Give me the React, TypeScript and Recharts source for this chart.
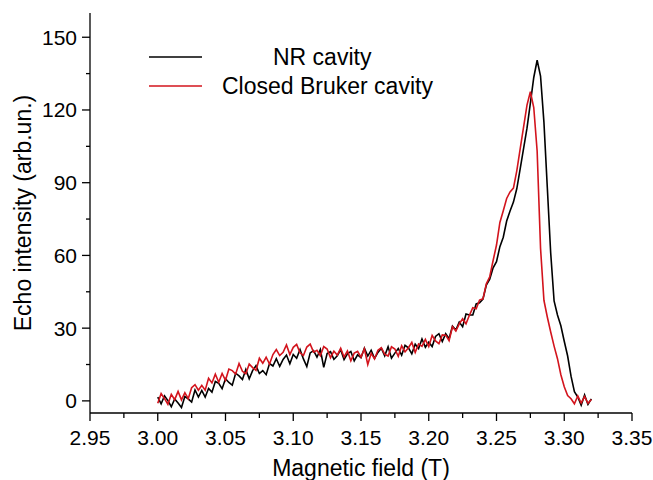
import React from 'react';
import { LineChart, Line, XAxis, YAxis, Legend } from 'recharts';

// magnetic field (T), one reading every 2.5 mT
const fields = [
  3.0, 3.0025, 3.005, 3.0075, 3.01, 3.0125, 3.015, 3.0175,
  3.02, 3.0225, 3.025, 3.0275, 3.03, 3.0325, 3.035, 3.0375,
  3.04, 3.0425, 3.045, 3.0475, 3.05, 3.0525, 3.055, 3.0575,
  3.06, 3.0625, 3.065, 3.0675, 3.07, 3.0725, 3.075, 3.0775,
  3.08, 3.0825, 3.085, 3.0875, 3.09, 3.0925, 3.095, 3.0975,
  3.1, 3.1025, 3.105, 3.1075, 3.11, 3.1125, 3.115, 3.1175,
  3.12, 3.1225, 3.125, 3.1275, 3.13, 3.1325, 3.135, 3.1375,
  3.14, 3.1425, 3.145, 3.1475, 3.15, 3.1525, 3.155, 3.1575,
  3.16, 3.1625, 3.165, 3.1675, 3.17, 3.1725, 3.175, 3.1775,
  3.18, 3.1825, 3.185, 3.1875, 3.19, 3.1925, 3.195, 3.1975,
  3.2, 3.2025, 3.205, 3.2075, 3.21, 3.2125, 3.215, 3.2175,
  3.22, 3.2225, 3.225, 3.2275, 3.23, 3.2325, 3.235, 3.2375,
  3.24, 3.2425, 3.245, 3.2475, 3.25, 3.2525, 3.255, 3.2575,
  3.26, 3.2625, 3.265, 3.2675, 3.27, 3.2725, 3.275, 3.2775,
  3.28, 3.2825, 3.285, 3.2875, 3.29, 3.2925, 3.295, 3.2975,
  3.3, 3.3025, 3.305, 3.3075, 3.31, 3.3125, 3.315, 3.3175,
  3.32,
];

const nrCavity = [
  1.5, -1.2, 2.1, 0.1, -2.4, 0.8, -0.9, -2.7,
  1.8, 0.8, -0.5, 4.5, 1.6, 4.3, 1.6, 5.1,
  3.6, 8.0, 7.2, 5.0, 9.1, 7.6, 6.5, 11.4,
  10.3, 8.8, 13.0, 9.1, 12.5, 14.5, 11.3, 12.5,
  10.8, 15.4, 14.4, 17.4, 14.2, 17.1, 18.9, 15.3,
  19.1, 17.6, 21.2, 17.3, 14.2, 19.8, 20.7, 18.0,
  21.2, 13.8, 19.5, 20.3, 17.1, 18.6, 21.1, 17.0,
  19.4, 20.4, 16.5, 19.0, 17.8, 21.7, 18.5, 20.9,
  17.5, 20.0, 21.7, 18.6, 22.3, 17.6, 19.7, 21.6,
  18.8, 22.9, 21.9, 19.4, 23.4, 21.6, 25.5, 22.1,
  24.2, 22.4, 26.6, 27.7, 24.5, 27.7, 25.6, 30.8,
  29.2, 32.5, 30.6, 35.8, 35.4, 35.4, 40.0, 40.5,
  42.0, 47.8, 50.2, 54.9, 57.4, 63.6, 67.5, 74.2,
  78.3, 82.0, 87.6, 95.8, 104.2, 112.5, 122.8, 133.4,
  140.5, 134.0, 115.0, 88.0, 61.0, 41.2, 35.4, 31.0,
  24.6, 18.5, 10.2, 3.8, 1.6, -1.8, 2.4, -1.5,
  0.8,
];

const brukerCavity = [
  -1.0, 3.0, 0.9, -1.4, 2.7, 0.5, 3.9, 0.4,
  3.4, 0.9, 5.4, 6.7, 4.4, 6.4, 4.4, 9.3,
  7.4, 11.0, 7.7, 11.3, 8.5, 13.1, 12.5, 11.1,
  15.4, 12.2, 11.2, 15.2, 13.7, 12.6, 17.6, 15.5,
  18.0, 15.2, 19.1, 21.2, 18.7, 20.0, 23.1, 19.1,
  22.1, 23.3, 19.8, 18.7, 22.2, 23.4, 20.1, 20.9,
  18.6, 22.4, 21.4, 17.8, 20.5, 18.9, 21.7, 18.1,
  20.6, 16.5, 19.7, 20.4, 18.0, 21.5, 15.0, 19.6,
  17.3, 20.9, 21.9, 19.3, 18.5, 22.3, 21.4, 18.4,
  22.7, 20.2, 21.9, 24.1, 20.0, 23.5, 22.5, 25.4,
  22.4, 27.0, 24.7, 23.6, 27.2, 27.1, 24.8, 30.6,
  28.8, 31.8, 33.9, 31.8, 35.3, 38.4, 38.0, 41.6,
  42.1, 48.3, 51.2, 57.9, 64.3, 73.6, 78.4, 83.5,
  86.2, 87.8, 95.0, 104.1, 113.0, 122.0, 127.5, 121.0,
  103.0, 63.0, 41.5, 34.6, 28.4, 22.6, 17.4, 10.8,
  5.8, 2.2, 0.9, -1.2, 2.0, -0.9, 1.8, -1.0,
  0.6,
];

const xTicks = [
  2.95, 2.975, 3.0, 3.025, 3.05, 3.075, 3.1, 3.125, 3.15,
  3.175, 3.2, 3.225, 3.25, 3.275, 3.3, 3.325, 3.35,
];
const yTicks = [0, 15, 30, 45, 60, 75, 90, 105, 120, 135, 150];

const data = fields.map((field, i) => ({
  field,
  nr: nrCavity[i],
  bruker: brukerCavity[i],
}));

const FONT = '"Liberation Sans", Arial, sans-serif';
const RED = '#d3141d';

const isMajorX = (v: number) => Math.abs(v * 20 - Math.round(v * 20)) < 1e-6;

const XTick = (props: any) => {
  const { x, y, payload } = props;
  const major = isMajorX(payload.value);
  return (
    <g>
      <line x1={x} x2={x} y1={y} y2={y + (major ? 8 : 5)} stroke="#000" strokeWidth={1.3} />
      {major && (
        <text x={x} y={y + 32} textAnchor="middle" fontSize={21} fill="#000">
          {payload.value.toFixed(2)}
        </text>
      )}
    </g>
  );
};

const YTick = (props: any) => {
  const { x, y, payload } = props;
  const major = payload.value % 30 === 0;
  return (
    <g>
      <line x1={x} x2={x - (major ? 8 : 4)} y1={y} y2={y} stroke="#000" strokeWidth={1.3} />
      {major && (
        <text x={x - 13} y={y + 7.5} textAnchor="end" fontSize={21} fill="#000">
          {payload.value}
        </text>
      )}
    </g>
  );
};

const LegendBox = () => (
  <svg width={653} height={110} style={{ display: 'block', fontFamily: FONT }}>
    <line x1={149} x2={202} y1={57} y2={57} stroke="#000" strokeWidth={1.3} />
    <text x={273} y={65} fontSize={23} fill="#000">NR cavity</text>
    <line x1={149} x2={202} y1={86} y2={86} stroke={RED} strokeWidth={1.3} />
    <text x={222} y={94} fontSize={23} fill="#000">Closed Bruker cavity</text>
  </svg>
);

export default function App() {
  return (
    <div style={{ position: 'absolute', left: 0, top: 0, width: 653, height: 480, background: '#fff', fontFamily: FONT }}>
      <LineChart width={653} height={480} data={data} margin={{ top: 13, right: 21, left: 0, bottom: 0 }}>
        <XAxis
          dataKey="field"
          type="number"
          domain={[2.95, 3.35]}
          ticks={xTicks}
          interval={0}
          height={67}
          tickSize={0}
          tickMargin={0}
          tick={<XTick />}
          axisLine={{ stroke: '#000', strokeWidth: 1.3 }}
          tickLine={false}
          label={{
            content: ({ viewBox }: any) => (
              <text
                x={viewBox.x + viewBox.width / 2}
                y={476}
                textAnchor="middle"
                fontSize={23}
                fill="#000"
              >
                Magnetic field (T)
              </text>
            ),
          }}
        />
        <YAxis
          type="number"
          domain={[-5, 160]}
          ticks={yTicks}
          interval={0}
          width={90}
          tickSize={0}
          tickMargin={0}
          tick={<YTick />}
          axisLine={{ stroke: '#000', strokeWidth: 1.3 }}
          tickLine={false}
          label={{
            content: ({ viewBox }: any) => {
              const cy = viewBox.y + viewBox.height / 2;
              return (
                <text
                  x={31}
                  y={cy}
                  transform={`rotate(-90, 31, ${cy})`}
                  textAnchor="middle"
                  fontSize={23}
                  fill="#000"
                >
                  Echo intensity (arb.un.)
                </text>
              );
            },
          }}
        />
        <Legend
          layout="vertical"
          align="center"
          verticalAlign="middle"
          content={<LegendBox />}
          wrapperStyle={{ left: 0, top: 0, width: 653, height: 110, pointerEvents: 'none' }}
        />
        <Line
          type="linear"
          dataKey="nr"
          name="NR cavity"
          stroke="#000"
          strokeWidth={1.6}
          dot={false}
          isAnimationActive={false}
        />
        <Line
          type="linear"
          dataKey="bruker"
          name="Closed Bruker cavity"
          stroke={RED}
          strokeWidth={1.6}
          dot={false}
          isAnimationActive={false}
        />
      </LineChart>
    </div>
  );
}
